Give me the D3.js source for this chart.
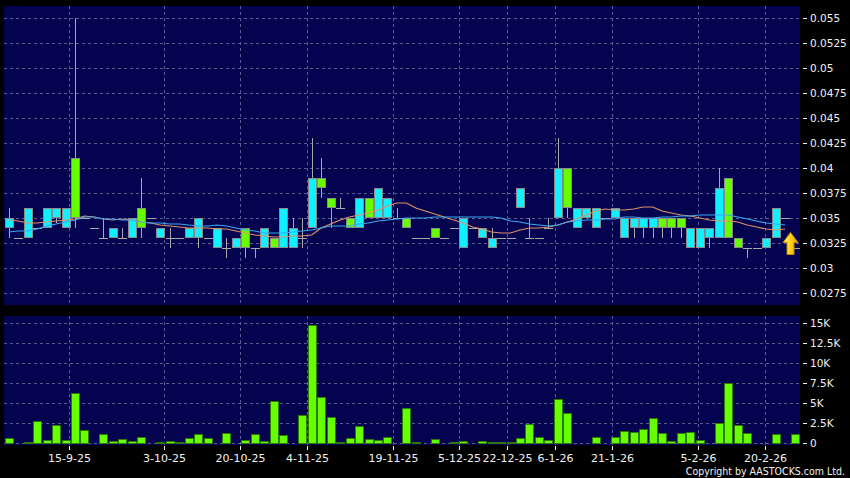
<!DOCTYPE html>
<html><head><meta charset="utf-8">
<script src="https://cdn.jsdelivr.net/npm/d3@7"></script>
<style>html,body{margin:0;padding:0;background:#000;}svg{display:block}</style>
</head><body><svg id="c" width="850" height="478"></svg>
<script>
// ---- data ----
const opens  = [.035,.033,.036,.034,.036,.036,.036,.035,.035,.034,.033,.034,.033,.035,.034,.035,.034,.033,.033,.034,.035,.033,.034,.032,.033,.032,.032,.034,.032,.036,.034,.033,.039,.038,.036,.036,.034,.037,.035,.038,.037,.035,.034,.033,.033,.033,.033,.034,.035,.034,.034,.033,.033,.033,.038,.033,.033,.034,.040,.036,.036,.036,.036,.035,.036,.035,.035,.035,.035,.034,.034,.034,.034,.034,.034,.038,.033,.032,.032,.032,.033,.036,.035,.032];
const highs  = [.036,.033,.036,.034,.036,.036,.036,.055,.035,.034,.035,.034,.034,.035,.039,.035,.034,.034,.033,.034,.035,.033,.034,.033,.033,.034,.032,.034,.033,.036,.035,.035,.043,.041,.037,.037,.035,.037,.037,.038,.037,.036,.035,.033,.033,.034,.033,.034,.035,.034,.034,.034,.033,.033,.038,.035,.033,.035,.043,.040,.036,.036,.036,.035,.036,.035,.035,.035,.035,.035,.035,.035,.034,.034,.034,.040,.039,.033,.032,.032,.033,.036,.035,.032];
const lows   = [.033,.033,.033,.034,.034,.0345,.034,.034,.035,.034,.033,.033,.033,.033,.033,.035,.033,.032,.033,.033,.032,.033,.032,.031,.032,.031,.031,.032,.032,.032,.032,.032,.034,.037,.034,.036,.034,.034,.035,.035,.035,.035,.034,.033,.033,.033,.033,.034,.032,.034,.033,.032,.033,.033,.036,.033,.033,.034,.035,.035,.034,.035,.034,.035,.035,.033,.033,.033,.033,.033,.033,.033,.032,.032,.032,.033,.033,.032,.031,.032,.032,.033,.035,.032];
const closes = [.034,.033,.033,.034,.034,.035,.034,.041,.035,.034,.033,.033,.033,.033,.036,.035,.033,.033,.033,.033,.033,.033,.032,.032,.032,.034,.032,.032,.033,.032,.032,.033,.034,.039,.037,.036,.035,.034,.037,.035,.035,.035,.035,.033,.033,.034,.033,.034,.032,.034,.033,.032,.033,.033,.036,.033,.033,.034,.035,.040,.034,.035,.034,.035,.035,.033,.034,.034,.034,.035,.035,.035,.032,.032,.033,.033,.039,.033,.032,.032,.032,.033,.035,.032];
const volumes = [700,0,200,2833,375,2250,417,6333,1667,80,1208,333,542,250,792,0,167,250,125,708,1125,708,0,1292,40,417,1125,333,5250,1083,40,3542,14792,5792,3333,125,708,2167,583,375,833,40,4375,167,0,500,0,125,292,40,250,125,208,167,667,2417,750,417,5542,3750,40,0,833,0,792,1542,1458,1750,3167,1292,292,1250,1375,458,80,2542,7583,2333,1250,0,100,1125,0,1125];
const ma10 = [.0348,.0347,.0345,.0345,.0346,.0347,.0348,.0349,.0352,.0351,.0349,.0348,.0349,.0348,.0346,.0345,.0343,.0342,.0341,.0340,.0340,.0340,.0339,.0339,.0337,.0335,.0333,.0332,.0331,.0331,.0332,.0332,.0333,.0340,.0344,.0348,.0351,.0353,.0355,.0358,.0362,.0365,.0365,.0360,.0357,.0354,.0351,.0348,.0345,.0341,.0339,.0336,.0335,.0335,.0338,.0340,.0340,.0341,.0343,.0346,.0349,.0353,.0357,.0359,.0358,.0358,.0359,.0361,.0361,.0357,.0355,.0353,.0352,.0350,.0348,.0347,.0347,.0346,.0343,.0341,.0339,.0338,.0339];
const ma20 = [.0336,.0337,.0337,.0339,.0342,.0344,.0346,.0348,.0351,.0351,.0349,.0349,.0348,.0348,.0346,.0345,.0345,.0344,.0344,.0343,.0342,.0342,.0343,.0342,.0340,.0338,.0337,.0335,.0335,.0335,.0336,.0337,.0338,.0340,.0342,.0342,.0342,.0344,.0345,.0347,.0348,.0349,.0350,.0350,.0350,.0351,.0351,.0351,.0351,.0351,.0351,.0351,.0350,.0347,.0346,.0344,.0343,.0342,.0343,.0346,.0347,.0348,.0348,.0349,.0349,.0351,.0351,.0350,.0350,.0351,.0351,.0352,.0352,.0353,.0353,.0353,.0353,.0351,.0349,.0347,.0345,.0344,.0343];
const dateLabels = ["15-9-25","3-10-25","20-10-25","4-11-25","19-11-25","5-12-25","22-12-25","6-1-26","21-1-26","5-2-26","20-2-26"];
const dateIndex  = [6.37,16.4,24.46,31.5,40.56,47.6,52.67,57.71,63.7,72.84,79.89];
const priceTicks = [0.0275,0.03,0.0325,0.035,0.0375,0.04,0.0425,0.045,0.0475,0.05,0.0525,0.055];
const priceTickLabels = ["0.0275","0.03","0.0325","0.035","0.0375","0.04","0.0425","0.045","0.0475","0.05","0.0525","0.055"];
const volTicks = [0,2500,5000,7500,10000,12500,15000];
const volTickLabels = ["0","2.5K","5K","7.5K","10K","12.5K","15K"];
const arrowPrice = 0.0336;

// ---- layout ----
const svg = d3.select("#c");
const P = {x0:4, x1:800, y0:6, y1:305};
const V = {x0:4, x1:800, y0:316, y1:445};
const n = closes.length;
const x = d3.scaleLinear().domain([-0.5, n-0.5]).range([4, 799.3]);
const y = d3.scaleLinear().domain([0.0275, 0.055]).range([293, 18]);
const yv = d3.scaleLinear().domain([0, 15000]).range([443.3, 323.3]);
const cx = i => Math.round(x(i));

const gridCol = "#5c5c94", textCol = "#f0f0f0";
const defs = svg.append("defs");
const grad = defs.append("linearGradient").attr("id","ag").attr("x1","0").attr("x2","1").attr("y1","0").attr("y2","0");
grad.append("stop").attr("offset","0").attr("stop-color","#fff27a");
grad.append("stop").attr("offset","0.5").attr("stop-color","#ffd21a");
grad.append("stop").attr("offset","1").attr("stop-color","#e59a00");

svg.append("rect").attr("width",850).attr("height",478).attr("fill","#000");
[P,V].forEach(p=>svg.append("rect").attr("x",p.x0).attr("y",p.y0).attr("width",p.x1-p.x0).attr("height",p.y1-p.y0).attr("fill","#03034f"));

// grids
const g = svg.append("g").attr("stroke",gridCol).attr("stroke-dasharray","3,3").attr("stroke-width",1);
priceTicks.forEach(t=>g.append("line").attr("x1",P.x0).attr("x2",P.x1).attr("y1",Math.round(y(t))+0.5).attr("y2",Math.round(y(t))+0.5));
volTicks.forEach(t=>g.append("line").attr("x1",V.x0).attr("x2",V.x1).attr("y1",Math.round(yv(t))+0.5).attr("y2",Math.round(yv(t))+0.5));
dateIndex.forEach(d=>{
  const xx = Math.round(x(d))+0.5;
  g.append("line").attr("x1",xx).attr("x2",xx).attr("y1",P.y0).attr("y2",P.y1);
  g.append("line").attr("x1",xx).attr("x2",xx).attr("y1",V.y0).attr("y2",V.y1);
});

// axes (right)
const ax = svg.append("g").attr("font-family","DejaVu Sans").attr("font-size","10.5px").attr("fill",textCol);
priceTicks.forEach((t,i)=>{
  const yy = Math.round(y(t))+0.5;
  ax.append("line").attr("x1",803).attr("x2",807).attr("y1",yy).attr("y2",yy).attr("stroke",textCol);
  ax.append("text").attr("x",810).attr("y",yy).attr("dy","0.36em").text(priceTickLabels[i]);
});
volTicks.forEach((t,i)=>{
  const yy = Math.round(yv(t))+0.5;
  ax.append("line").attr("x1",803).attr("x2",807).attr("y1",yy).attr("y2",yy).attr("stroke",textCol);
  ax.append("text").attr("x",810).attr("y",yy).attr("dy","0.36em").text(volTickLabels[i]);
});
// date axis
const dx = svg.append("g").attr("font-family","DejaVu Sans").attr("font-size","11px").attr("fill",textCol).attr("text-anchor","middle");
dateIndex.forEach((d,i)=>{
  const xx = Math.round(x(d))+0.5;
  dx.append("line").attr("x1",xx).attr("x2",xx).attr("y1",446).attr("y2",450).attr("stroke",textCol);
  dx.append("text").attr("x",xx).attr("y",462).text(dateLabels[i]);
});

// candles
const up="#66ff00", down="#10f0ff";
const cg = svg.append("g");
d3.range(n).forEach(i=>{
  const o=opens[i], h=highs[i], l=lows[i], c=closes[i];
  const xc = cx(i);
  if (h>l) cg.append("line").attr("x1",xc+0.5).attr("x2",xc+0.5).attr("y1",Math.round(y(h))).attr("y2",Math.round(y(l))).attr("stroke","#a8a8a8");
  if (o===c) {
    cg.append("line").attr("x1",xc-4).attr("x2",xc+5).attr("y1",Math.round(y(c))+0.5).attr("y2",Math.round(y(c))+0.5).attr("stroke","#a8a8a8");
  } else {
    const top = Math.round(y(Math.max(o,c))), bot = Math.round(y(Math.min(o,c)));
    cg.append("rect").attr("x",xc-3.5).attr("y",top+0.5).attr("width",8).attr("height",bot-top-1)
      .attr("fill",c>o?up:down).attr("stroke","#8a8a8a").attr("stroke-width",1);
  }
});

// MA lines
const line = d3.line().x((d,i)=>x(i)).y(d=>y(d));
svg.append("path").attr("d",line(ma10)).attr("fill","none").attr("stroke","#e09068").attr("stroke-width",1.2);
svg.append("path").attr("d",line(ma20)).attr("fill","none").attr("stroke","#3aa8f0").attr("stroke-width",1.2);

// volume bars
const vg = svg.append("g");
volumes.forEach((v,i)=>{
  if (v<=0) return;
  const xc = cx(i), top = Math.round(yv(v)), base = Math.round(yv(0));
  vg.append("rect").attr("x",xc-3.5).attr("y",top+0.5).attr("width",8).attr("height",Math.max(0,base-top))
    .attr("fill","#66ff00").attr("stroke","#2e7a00").attr("stroke-width",1);
});

// arrow
const axp = Math.round((x(n-2)+x(n-1))/2)+0.5, ayp = Math.round(y(arrowPrice))+0.5;
svg.append("path").attr("transform",`translate(${axp},${ayp})`)
  .attr("d","M0,0 L7.5,10 L3.5,10 L3.5,22 L-3.5,22 L-3.5,10 L-7.5,10 Z")
  .attr("fill","url(#ag)").attr("stroke","#c98400").attr("stroke-width",1);

// copyright
svg.append("text").attr("transform","translate(845,475) scale(0.86,1)").attr("text-anchor","end")
  .attr("font-family","DejaVu Sans").attr("font-size","11px").attr("fill",textCol)
  .text("Copyright by AASTOCKS.com Ltd.");
</script></body></html>
